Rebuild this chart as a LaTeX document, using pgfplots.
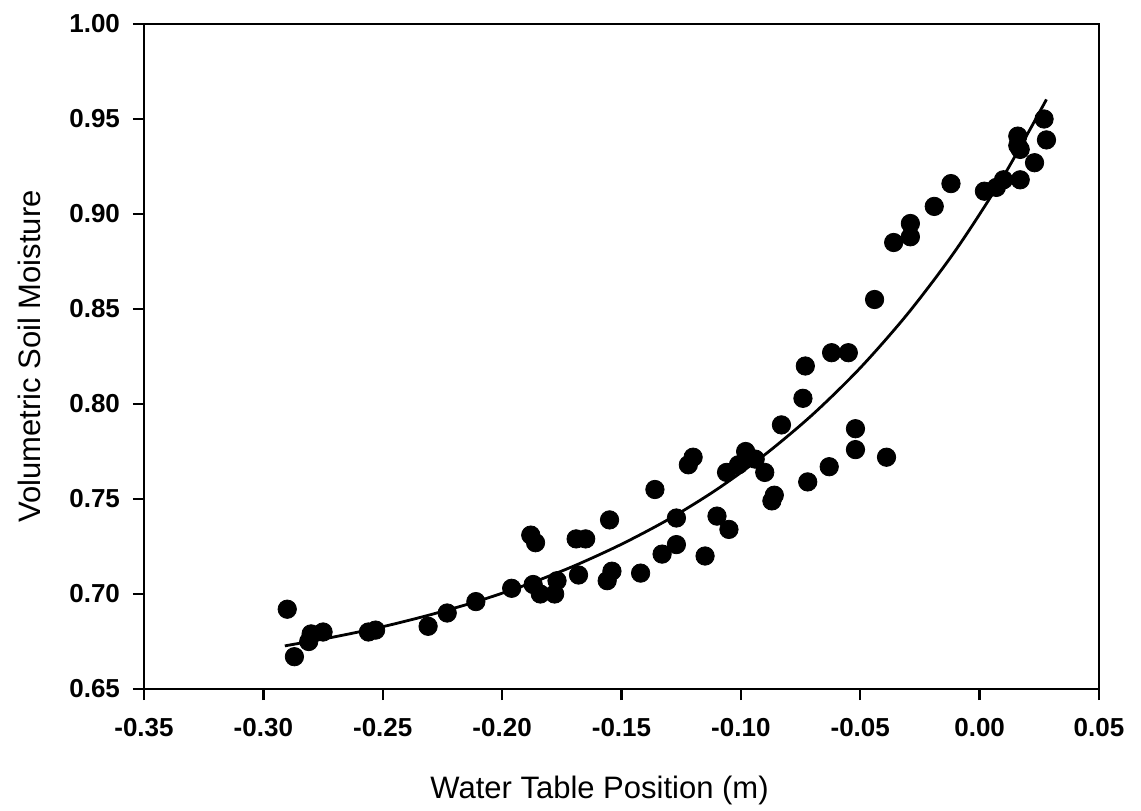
\documentclass[border=0pt]{standalone}
\usepackage{fontspec}
\setmainfont{Liberation Sans}
\usepackage{pgfplots}
\pgfplotsset{compat=1.18}
\begin{document}
\begin{tikzpicture}
\begin{axis}[
  scale only axis, width=477.5pt, height=332.5pt,
  xmin=-0.35, xmax=0.05, ymin=0.65, ymax=1.00,
  xtick={-0.35,-0.30,-0.25,-0.20,-0.15,-0.10,-0.05,0.00,0.05},
  xticklabels={-0.35,-0.30,-0.25,-0.20,-0.15,-0.10,-0.05,0.00,0.05},
  ytick={0.65,0.70,0.75,0.80,0.85,0.90,0.95,1.00},
  yticklabels={0.65,0.70,0.75,0.80,0.85,0.90,0.95,1.00},
  tick align=outside, xtick pos=lower, ytick pos=left,
  major tick length=5.5pt,
  axis line style={line width=1.3pt},
  major tick style={line width=1.2pt, black},
  ticklabel style={font=\fontsize{13}{14}\selectfont\bfseries},
  xticklabel style={yshift=-5.5pt},
  yticklabel style={xshift=-3pt},
  xlabel={Water Table Position (m)},
  ylabel={Volumetric Soil Moisture},
  every axis x label/.style={at={(axis description cs:0.477,-0.152)}, anchor=center, font=\fontsize{15.5}{16}\selectfont},
  every axis y label/.style={at={(axis description cs:-0.12,0.5)}, rotate=90, anchor=center, font=\fontsize{15.5}{16}\selectfont},
  clip=false,
]
\addplot[black, line width=1.4pt, smooth] coordinates {
(-0.291,0.6727) (-0.27,0.6775) (-0.25,0.6828) (-0.23,0.6891) (-0.21,0.6963)
(-0.19,0.7048) (-0.17,0.7147) (-0.15,0.7262) (-0.13,0.7395) (-0.11,0.7551)
(-0.09,0.7733) (-0.07,0.7944) (-0.05,0.8190) (-0.03,0.8477) (-0.01,0.8810)
(0.01,0.9199) (0.028,0.9603)
};
\addplot[only marks, mark=*, mark size=4.6pt, black] coordinates {
(-0.290,0.692) (-0.287,0.667) (-0.281,0.675) (-0.280,0.679) (-0.275,0.680)
(-0.256,0.680) (-0.253,0.681) (-0.231,0.683) (-0.223,0.690) (-0.211,0.696)
(-0.196,0.703) (-0.187,0.705) (-0.184,0.700) (-0.178,0.700) (-0.177,0.707)
(-0.188,0.731) (-0.186,0.727) (-0.169,0.729) (-0.165,0.729) (-0.168,0.710)
(-0.155,0.739) (-0.156,0.707) (-0.154,0.712) (-0.142,0.711) (-0.136,0.755)
(-0.133,0.721) (-0.127,0.726) (-0.127,0.740) (-0.122,0.768) (-0.120,0.772)
(-0.115,0.720) (-0.110,0.741) (-0.105,0.734) (-0.106,0.764) (-0.101,0.768)
(-0.098,0.775) (-0.094,0.771) (-0.090,0.764) (-0.087,0.749) (-0.086,0.752)
(-0.083,0.789) (-0.072,0.759) (-0.073,0.820) (-0.062,0.827) (-0.055,0.827)
(-0.074,0.803) (-0.052,0.787) (-0.052,0.776) (-0.039,0.772) (-0.063,0.767)
(-0.019,0.904) (-0.029,0.895) (-0.029,0.888) (-0.036,0.885) (-0.044,0.855)
(0.027,0.950) (0.028,0.939) (0.016,0.941) (0.016,0.936) (0.017,0.934)
(0.023,0.927) (0.017,0.918) (0.010,0.918) (0.007,0.914) (0.002,0.912)
(-0.012,0.916)
};
\end{axis}
\pgfresetboundingbox
\path (-72pt,-60.5pt) rectangle (498.5pt,344.5pt);
\end{tikzpicture}
\end{document}
